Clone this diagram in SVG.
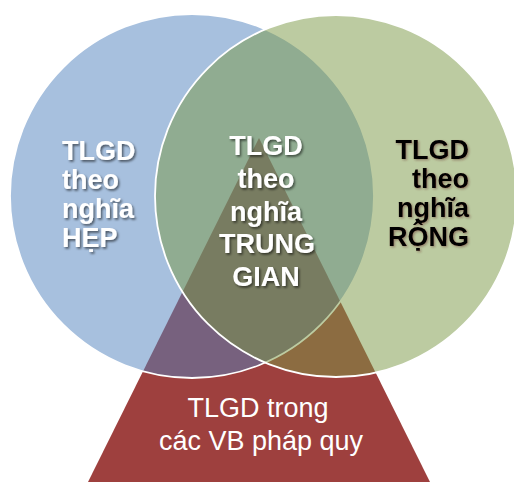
<svg xmlns="http://www.w3.org/2000/svg" width="514" height="482" viewBox="0 0 514 482">
  <defs>
    <filter id="shadow" x="-20%" y="-20%" width="140%" height="140%">
      <feDropShadow dx="1.5" dy="1.8" stdDeviation="1.1" flood-color="#000000" flood-opacity="0.55"/>
    </filter>
    <filter id="shadowDark" x="-20%" y="-20%" width="140%" height="140%">
      <feDropShadow dx="1.2" dy="1.2" stdDeviation="0.8" flood-color="#5a2020" flood-opacity="0.45"/>
    </filter>
  </defs>
  <style>
    .bold { font-family: "Liberation Sans", Arial, sans-serif; font-weight: bold; font-size: 27px; }
    .reg { font-family: "Liberation Sans", Arial, sans-serif; font-size: 27px; fill: #ffffff; text-anchor: middle; }
    .white { fill: #ffffff; }
    .black { fill: #000000; }
    .circ { stroke: #ffffff; stroke-width: 1.8; }
  </style>
  <rect width="514" height="482" fill="#ffffff"/>

  <g id="phap-quy">
    <polygon points="259,138 88,482 430,482" fill="#9E403E"/>
  </g>

  <g id="nghia-hep">
    <circle class="circ" cx="192" cy="196" r="182" fill="rgb(79,129,189)" fill-opacity="0.5"/>
  </g>

  <g id="nghia-rong">
    <circle class="circ" cx="336" cy="196" r="181" fill="rgb(121,151,67)" fill-opacity="0.5"/>
  </g>

  <g id="label-hep" class="bold white" filter="url(#shadow)">
    <text x="62" y="160">TLGD</text>
    <text x="62" y="189">theo</text>
    <text x="62" y="218">nghĩa</text>
    <text x="62" y="247">HẸP</text>
  </g>

  <g id="nghia-trung-gian" class="bold white" filter="url(#shadow)" text-anchor="middle">
    <text x="266" y="155">TLGD</text>
    <text x="266" y="188">theo</text>
    <text x="266" y="221">nghĩa</text>
    <text x="267" y="253">TRUNG</text>
    <text x="266" y="286">GIAN</text>
  </g>

  <g id="label-rong" class="bold black" filter="url(#shadowDark)" text-anchor="end">
    <text x="469" y="159">TLGD</text>
    <text x="469" y="188">theo</text>
    <text x="469" y="217">nghĩa</text>
    <text x="469" y="246">RỘNG</text>
  </g>

  <g id="label-phap-quy">
    <text class="reg" x="258" y="417">TLGD trong</text>
    <text class="reg" x="261" y="450">các VB pháp quy</text>
  </g>
</svg>
